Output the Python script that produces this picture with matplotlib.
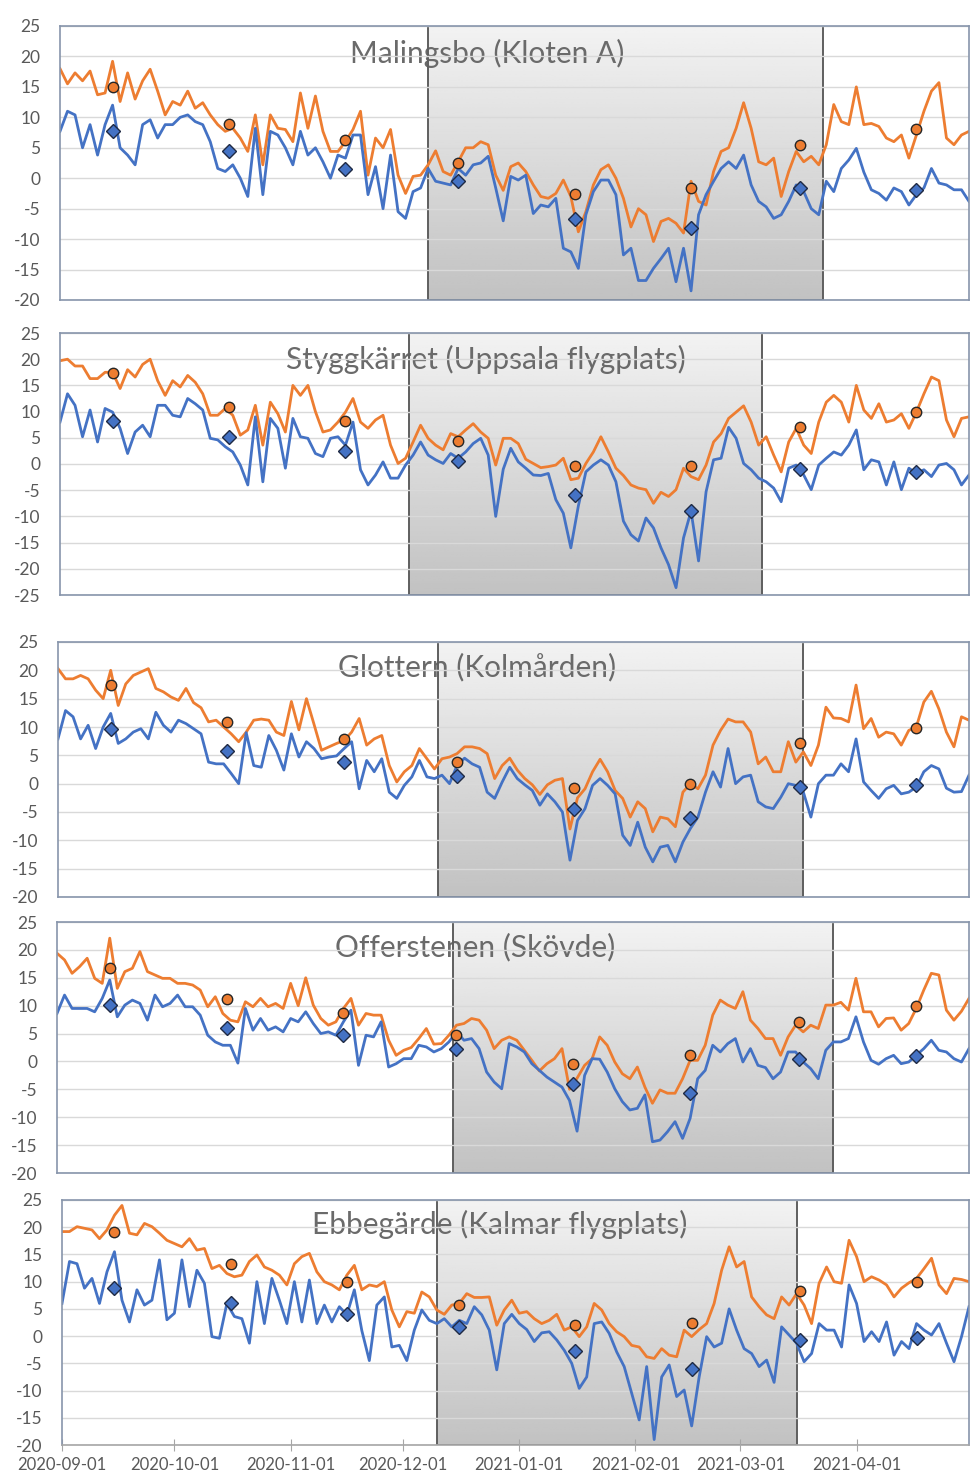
import matplotlib
matplotlib.use('Agg')
import matplotlib.pyplot as plt
from matplotlib.patches import Rectangle
import numpy as np

plt.rcParams['font.family'] = ['Lato', 'DejaVu Sans']
plt.rcParams['axes.unicode_minus'] = False

# one reading every second day, starting 2020-09-01
START = np.datetime64('2020-09-01')
STEP = 2

titles = ['Malingsbo (Kloten A)', 'Styggkärret (Uppsala flygplats)',
          'Glottern (Kolmården)', 'Offerstenen (Skövde)',
          'Ebbegärde (Kalmar flygplats)']

malingsbo_high = [
    18, 15.5, 17.3, 16, 17.6, 13.7, 14, 19.2, 12.6, 17.3,
    13, 16, 17.9, 14.3, 10.4, 12.6, 12, 14.3, 11.5, 12.4,
    10.4, 8.8, 7.7, 8.2, 6.6, 4.4, 10.4, 2.2, 10.4, 8.2,
    8, 6, 14, 8.2, 13.5, 7.7, 4.4, 4.4, 6, 8,
    11, 0.5, 6.6, 5, 8, 0.5, -2.5, 0.3, 0.5, 2.2,
    4.5, 1.1, 0.5, 2.7, 5, 5, 6, 5.5, 0.5, -2,
    1.9, 2.5, 1.1, -1.1, -3, -3.3, -2.5, -0.3, -3, -8.8,
    -5.5, -1.1, 1.4, 2.2, 0, -3.3, -8, -5, -6, -10.4,
    -7.1, -6.6, -7.4, -9, -0.5, -3.8, -4.4, 1.1, 4.4, 5,
    8.2, 12.4, 8.2, 2.7, 2.2, 3.3, -3, 1.1, 4.4, 2.7,
    3.6, 2.2, 5.5, 12.1, 9.3, 8.8, 15, 8.8, 9, 8.5,
    6.6, 6, 7.1, 3.3, 7.1, 11, 14.3, 15.7, 6.6, 5.5,
    7.1, 7.7]
malingsbo_low = [
    7.7, 11, 10.4, 5, 8.8, 3.8, 8.8, 12, 5, 3.8,
    2.2, 8.8, 9.6, 6.6, 8.8, 8.8, 10, 10.4, 9.3, 8.8,
    6, 1.6, 1.1, 2.2, 0, -3, 8.2, -2.7, 7.7, 7.1,
    5, 2.2, 7.7, 3.8, 5, 2.7, 0, 3.8, 3.3, 7.1,
    7.1, -2.7, 1.9, -5, 3.8, -5.5, -6.6, -2.2, -1.6, 1.6,
    -0.5, -0.8, -1.1, 1.6, 0.5, 2.2, 2.5, 3.6, -1.6, -7,
    0.3, -0.3, 0.5, -5.8, -4.4, -4.7, -3.3, -11.5, -12.1, -14.8,
    -6, -2.2, -0.3, -0.3, -2.7, -12.6, -11.5, -16.8, -16.8, -14.8,
    -13.2, -11.5, -17, -11.5, -18.5, -6, -2.7, -0.5, 1.6, 2.7,
    1.6, 3.8, -1.1, -3.8, -4.7, -6.6, -6, -3.8, -1.1, -2.2,
    -5, -6, -0.5, -2.2, 1.6, 3, 4.9, 1, -1.9, -2.5,
    -3.6, -1.6, -2.2, -4.4, -2.7, -1.6, 1.6, -0.8, -1.1, -1.9,
    -1.9, -3.8]

stygg_high = [
    19.7, 20, 18.7, 18.7, 16.3, 16.3, 17.5, 17.5, 14.4, 18,
    16.6, 19, 20, 15.9, 13.1, 15.9, 14.7, 16.9, 15.6, 13.4,
    9.3, 9.3, 10.6, 9.3, 5.5, 6.5, 11.2, 3.6, 11.8, 9.6,
    6.1, 15, 13.1, 15, 10, 6.1, 6.5, 8, 9.9, 12.5,
    8, 6.8, 8.4, 9.3, 3.6, 0.1, 1.1, 4.2, 7.4, 4.9,
    3.6, 2.7, 5.8, 5.2, 6.5, 7.7, 6.1, 4.9, -0.2, 4.9,
    4.9, 3.9, 0.9, 0.1, -0.7, -0.5, -0.2, 1.1, -3, -2.7,
    0.1, 2.3, 5.2, 2.3, -0.8, -2.2, -4, -4.6, -4.9, -7.5,
    -5.4, -6.2, -4.9, -0.8, -2.4, -3, -0.2, 4.2, 5.8, 8.7,
    9.9, 11.1, 8, 3.6, 5.2, 1.7, -1.5, 4.2, 6.8, 3.6,
    2, 8, 11.8, 13.1, 11.8, 8, 15, 10.3, 8.7, 11.5,
    8, 8.4, 9.6, 6.8, 9.9, 13.4, 16.6, 15.9, 8.4, 5.2,
    8.7, 9]
stygg_low = [
    8, 13.4, 11.2, 5.2, 10.3, 4.2, 10.6, 9.9, 6.8, 2,
    6.1, 7.4, 5.2, 11.2, 11.2, 9.3, 9, 12.5, 11.5, 10.3,
    4.9, 4.6, 3.3, 2.3, -0.2, -4, 9, -3.4, 8.7, 6.8,
    -0.8, 8.7, 5.2, 4.9, 2, 1.4, 4.9, 5.2, 3.6, 8,
    -1.1, -4, -2.1, 0.4, -2.7, -2.7, -0.2, 1.7, 4.2, 1.7,
    0.8, 0.1, 2, 1.1, 2.3, 3.9, 4.9, 1.7, -10, -1,
    3, 0.4, -0.8, -2.1, -2.2, -1.8, -6.8, -9.4, -16, -8,
    -1.5, -0.2, 0.8, -0.2, -3.4, -10.9, -13.5, -14.7, -10.3, -12.2,
    -16, -19.2, -23.6, -14.1, -9, -18.5, -5.3, 0.8, 1.1, 7,
    4.9, 0.1, -1.1, -2.7, -3.4, -4.6, -7.2, -0.8, -0.2, -2.1,
    -4.9, -0.2, 1.1, 2.3, 1.7, 3.6, 6.5, -1.1, 0.8, 0.4,
    -4, 0.4, -4.9, -0.8, -1.8, -1.1, -2.4, -0.2, 0.1, -1.1,
    -4, -2.1]

glottern_high = [
    20.3, 18.5, 18.5, 19.1, 18.5, 16.5, 15, 20, 13.8, 17.6,
    19.1, 19.7, 20.3, 16.8, 16.2, 15.3, 14.7, 16.8, 14.3, 13.4,
    10.9, 11.2, 10, 8.8, 7.4, 9.1, 11.2, 11.4, 11.2, 9.1,
    8.5, 14.5, 9.5, 15, 10.5, 5.9, 6.5, 7.1, 7.6, 9.1,
    11.5, 6.8, 7.9, 8.5, 3.2, 0.3, 2.1, 3.2, 6.2, 4.4,
    2.6, 4.4, 4.7, 5.3, 6.5, 6.5, 6.2, 5.3, 0.9, 3.2,
    4.5, 2.4, 0.9, -0.2, -1.9, -0.2, 0.6, 0.9, -8, -2.5,
    -0.9, 2.1, 4.3, 2.1, -1.2, -2.6, -5.9, -3.2, -4.4, -8.5,
    -5.9, -6.2, -7.6, -1.5, 0, -0.9, 1.5, 6.8, 9.4, 11.4,
    10.9, 10.9, 9.1, 3.5, 4.7, 2.1, 2.1, 7.4, 3.8, 5.6,
    3.2, 6.8, 13.5, 11.6, 11.5, 10.9, 17.4, 9.7, 11.5, 8.2,
    9.1, 8.8, 6.8, 9.4, 10, 14.4, 16.3, 13.2, 9.1, 6.5,
    11.8, 11.2]
glottern_low = [
    7.9, 12.9, 11.8, 7.9, 10.3, 6.2, 10, 12.4, 7.1, 7.9,
    9.1, 9.7, 7.9, 12.6, 10.3, 9.1, 11.2, 10.6, 9.7, 8.8,
    3.8, 3.5, 3.5, 1.8, 0, 9, 3.2, 2.9, 8.5, 5.9,
    2.4, 8.8, 4.7, 7.4, 6.2, 4.4, 4.7, 4.9, 6.2, 7.4,
    -0.9, 4.1, 2.1, 4.4, -1.5, -2.6, -0.3, 1.2, 4.1, 1.2,
    0.9, 1.5, 0, 3.2, 4.5, 3.5, 2.9, -1.5, -2.6, 0.3,
    2.9, 0.9, -0.2, -1.2, -3.8, -1.8, -3.2, -5, -13.5, -6.5,
    -4.4, -0.3, 0.9, -0.3, -1.8, -9.1, -10.9, -6.8, -11.2, -13.8,
    -11.2, -10.9, -13.8, -10.3, -7.9, -5.9, -1.5, 2.1, -0.6, 6.2,
    0, 1.2, 1.5, -3.2, -4.1, -4.4, -2.4, 0, -0.3, -1.5,
    -5.9, 0, 1.5, 1.5, 3.5, 2.1, 7.9, 0.3, -1.2, -2.6,
    -0.9, -0.3, -1.8, -1.5, -0.6, 2.1, 3.2, 2.6, -0.8, -1.5,
    -1.4, 1.5]

offer_high = [
    19.4, 18.2, 15.8, 17, 18.5, 14.9, 14, 22.1, 13.1, 16.1,
    16.7, 19.7, 16.1, 15.5, 14.9, 14.9, 14, 14, 13.7, 12.8,
    9.8, 11.6, 8.6, 7.4, 7.1, 10.7, 9.8, 11.3, 9.8, 10.4,
    9.5, 14, 10, 15, 10.1, 7.7, 6.5, 7.1, 9.5, 11.3,
    6.5, 8.6, 8.3, 8.3, 3.8, 1.1, 2, 2.5, 4.1, 5.9,
    3.1, 3.2, 4.7, 6.5, 6.8, 7.7, 7.4, 5.6, 2.3, 3.8,
    4.4, 3.8, 2, 0.2, -1.7, -0.4, 0.5, 2.3, -5, -3,
    -0.7, 0.5, 4.4, 2.9, -0.1, -2.2, -3.1, -1, -4.6, -7.5,
    -5.1, -5.7, -5.7, -3.1, 0.2, 0.2, 2.9, 8.3, 11, 10.1,
    9.5, 12.5, 7.4, 5.9, 4.1, 4.1, 1.1, 4.4, 6.5, 5.3,
    6.5, 5.9, 10.1, 10.1, 10.6, 9.2, 14.9, 8.9, 8.9, 6.2,
    7.7, 7.8, 5.6, 6.8, 9.5, 12.8, 15.8, 15.5, 9.2, 7.4,
    9, 11.3]
offer_low = [
    8.6, 11.9, 9.5, 9.5, 9.5, 8.9, 11.3, 14.6, 8, 10.1,
    11, 10.4, 7.4, 11.9, 9.8, 10.4, 11.9, 9.8, 9.8, 8.3,
    4.7, 3.5, 2.9, 2.9, -0.3, 9.5, 5.6, 7.7, 5.6, 6.2,
    5.3, 7.7, 7.1, 8.9, 6.8, 5, 5.3, 4.7, 7.1, 9.2,
    -0.7, 4.7, 4.4, 7.1, -1, -0.4, 0.5, 0.5, 2.9, 2.6,
    1.7, 2.3, 3.5, 5.3, 3.8, 4.1, 2.3, -1.9, -3.7, -4.9,
    3.2, 2.6, 1.7, -0.4, -1.6, -2.8, -3.7, -4.6, -7, -12.5,
    -2.5, 0.5, 0.4, -1.9, -4.9, -7.2, -8.7, -8.4, -6, -14.4,
    -14.1, -12.6, -10.8, -13.8, -10.2, -3.1, -1.6, 2.9, 1.7, 3.2,
    4.1, -0.1, 2.3, -0.7, -1.1, -3.1, -1.9, 1.7, 1.7, -0.1,
    -1.3, -3.1, 2, 3.5, 3.5, 4.1, 8, 3.5, 0.2, -0.5,
    0.5, 1.1, -0.4, -0.1, 1.1, 2.3, 3.8, 2, 1.7, 0.5,
    -0.1, 2.3]

ebbe_high = [
    19.2, 19.2, 20.1, 19.8, 19.5, 17.9, 19.5, 22.2, 24, 18.9,
    18.6, 20.7, 20.1, 18.9, 17.6, 17, 16.4, 17.9, 15.8, 16.1,
    12.4, 13, 11.5, 10.9, 11.2, 13.7, 14.9, 12.7, 12.1, 11.2,
    9.4, 13.3, 14.6, 15.2, 11.8, 10, 9.4, 8.5, 11.2, 13,
    8.5, 9.4, 9.1, 10, 4.8, 1.7, 4.5, 4.2, 8.1, 7.2,
    4.8, 4, 5.7, 6, 7.8, 7.1, 7.1, 7.2, 2, 4.8,
    6.6, 4.2, 4.5, 3.2, 2.3, 2.9, 4, 1.1, 1.7, -0.1,
    1.7, 6, 4.8, 2.3, 0.8, -0.1, -1.7, -2, -3.8, -4.1,
    -2.3, -3.5, -3.8, 1.1, -0.1, 1.2, 2.3, 6, 12.1, 16.4,
    12.7, 13.7, 7.2, 5.4, 3.9, 3.2, 7.2, 5.7, 7.8, 5.7,
    2.3, 9.7, 12.7, 10, 9.7, 17.6, 14.6, 10, 10.9, 10.3,
    9.4, 7.2, 8.8, 9.8, 10.6, 12.4, 14.3, 9.4, 7.8, 10.6,
    10.4, 10]
ebbe_low = [
    6, 13.7, 13.3, 8.8, 10.6, 6, 11.8, 15.5, 6.6, 2.6,
    8.5, 5.7, 6.6, 14, 3, 4.2, 14, 5.4, 12.1, 9.7,
    -0.1, -0.4, 6, 3.6, 3.2, -1.3, 10, 2.3, 10.6, 6.6,
    2.3, 10, 2.6, 10.3, 2.3, 5.7, 2.6, 5.4, 3.9, 8.5,
    1, -4.5, 5.7, 7.2, -2, -1.7, -4.5, 1.1, 4.8, 2.9,
    2.3, 3.2, 1.7, 2.9, 2.3, 5.4, 3.9, 1.1, -6.2, 2.3,
    4, 2.3, 1.2, -1, 0.6, 0.8, -0.7, -2.6, -5, -9.6,
    -7.5, 2.3, 2.6, 0.5, -2.9, -5.6, -10.5, -15.4, -5.6, -19,
    -7.5, -5.3, -11.1, -9.9, -16.5, -7.5, -0.1, -2, -1.3, 5,
    1.1, -2.3, -3.2, -5.6, -4.4, -8.5, 1.7, 0.2, -1.3, -4.7,
    -3.2, 2.3, 1.1, 1.1, -2, 9.4, 6, -1, 0.8, -1,
    2.6, -3.5, -1, -2.3, 2.3, 1.1, 0.2, 2.3, -1.3, -4.7,
    -0.1, 5.4]

# monthly spot readings
point_dates = ['2020-09-15', '2020-10-16', '2020-11-16', '2020-12-16',
               '2021-01-16', '2021-02-16', '2021-03-17', '2021-04-17']
malingsbo_pt_high = [15, 8.9, 6.3, 2.5, -2.6, -1.6, 5.4, 8.1]
malingsbo_pt_low = [7.7, 4.5, 1.5, -0.5, -6.7, -8.1, -1.6, -2]
stygg_pt_high = [17.4, 10.9, 8.2, 4.4, -0.4, -0.4, 7.1, 9.9]
stygg_pt_low = [8.2, 5.2, 2.5, 0.6, -5.9, -8.9, -1, -1.6]
glottern_pt_high = [17.5, 10.9, 7.9, 3.9, -0.8, 0, 7.1, 9.9]
glottern_pt_low = [9.6, 5.8, 3.8, 1.4, -4.4, -6, -0.6, -0.3]
offer_pt_high = [16.7, 11.2, 8.6, 4.7, -0.4, 1.1, 7.1, 9.9]
offer_pt_low = [10.2, 6, 4.7, 2.2, -4, -5.6, 0.5, 1]
ebbe_pt_high = [19.2, 13.2, 10, 5.7, 2, 2.5, 8.3, 10]
ebbe_pt_low = [8.9, 6.1, 4, 1.7, -2.8, -6.1, -0.7, -0.3]

# shaded winter periods
shade_start = ['2020-12-08', '2020-12-03', '2020-12-11', '2020-12-15', '2020-12-10']
shade_end = ['2021-03-23', '2021-03-07', '2021-03-18', '2021-03-26', '2021-03-16']

y_ranges = [(-20, 25), (-25, 25), (-20, 25), (-20, 25), (-20, 25)]
month_labels = ['2020-09-01', '2020-10-01', '2020-11-01', '2020-12-01',
                '2021-01-01', '2021-02-01', '2021-03-01', '2021-04-01']


def day(s):
    return int((np.datetime64(s) - START).astype(int))


highs = [malingsbo_high, stygg_high, glottern_high, offer_high, ebbe_high]
lows = [malingsbo_low, stygg_low, glottern_low, offer_low, ebbe_low]
pt_highs = [malingsbo_pt_high, stygg_pt_high, glottern_pt_high, offer_pt_high, ebbe_pt_high]
pt_lows = [malingsbo_pt_low, stygg_pt_low, glottern_pt_low, offer_pt_low, ebbe_pt_low]

# panel boxes in pixels (left, top, right, bottom) and title placement
W, H = 971, 1477
boxes = [(60, 26, 969, 300), (60, 333, 969, 595), (58, 642, 969, 897),
         (57, 922, 969, 1173), (62, 1200, 969, 1445)]
title_x = [0.47, 0.468, 0.46, 0.458, 0.483]

ORANGE = '#ED7D31'
BLUE = '#4472C4'

fig = plt.figure(figsize=(W / 100, H / 100), dpi=100)
gradient = np.linspace(0.95, 0.76, 100).reshape(-1, 1)
pdays = [day(s) for s in point_dates]

for i in range(5):
    l, t, r, b = boxes[i]
    ax = fig.add_axes([l / W, 1 - b / H, (r - l) / W, (b - t) / H])
    ymin, ymax = y_ranges[i]
    x = np.arange(len(highs[i])) * STEP

    x0, x1 = day(shade_start[i]), day(shade_end[i])
    ax.imshow(gradient, cmap='gray', vmin=0, vmax=1, aspect='auto',
              extent=[x0, x1, ymin, ymax], origin='upper', zorder=0.2)
    ax.add_patch(Rectangle((x0, ymin), x1 - x0, ymax - ymin, fill=False,
                           edgecolor='#5f5f5f', lw=1.4, zorder=0.4))

    ax.plot(x, highs[i], color=ORANGE, lw=2, zorder=2)
    ax.plot(x, lows[i], color=BLUE, lw=2, zorder=2)
    ax.plot(pdays, pt_highs[i], 'o', ms=7.5, mfc=ORANGE, mec='#262626', mew=1, zorder=4)
    ax.plot(pdays, pt_lows[i], 'D', ms=7.5, mfc=BLUE, mec='#1f2a44', mew=1, zorder=4)

    ax.set_xlim(0, 242)
    ax.set_ylim(ymin, ymax)
    ax.set_yticks(np.arange(ymin, ymax + 1, 5))
    ax.set_axisbelow(True)
    ax.yaxis.grid(True, color='#d9d9d9', lw=1)
    ax.tick_params(axis='y', length=0, pad=14, labelsize=12.5, labelcolor='#595959')
    for sp in ax.spines.values():
        sp.set_color('#8795ab')
        sp.set_linewidth(1.2)

    # title sits under the grid lines and the shading border, like the original
    ax.text(title_x[i], 0.9, titles[i], transform=ax.transAxes, ha='center',
            va='center', fontsize=21.5, color='#6a6a6a', zorder=0.3)

    if i == 4:
        ax.set_xticks([day(s) for s in month_labels])
        ax.set_xticklabels(month_labels)
        ax.tick_params(axis='x', direction='inout', length=9, color='#a6a6a6',
                       labelsize=12, labelcolor='#595959', pad=4)
        ax.spines['bottom'].set_color('#a6a6a6')
    else:
        ax.set_xticks([])

fig.savefig('out.png', dpi=100)
